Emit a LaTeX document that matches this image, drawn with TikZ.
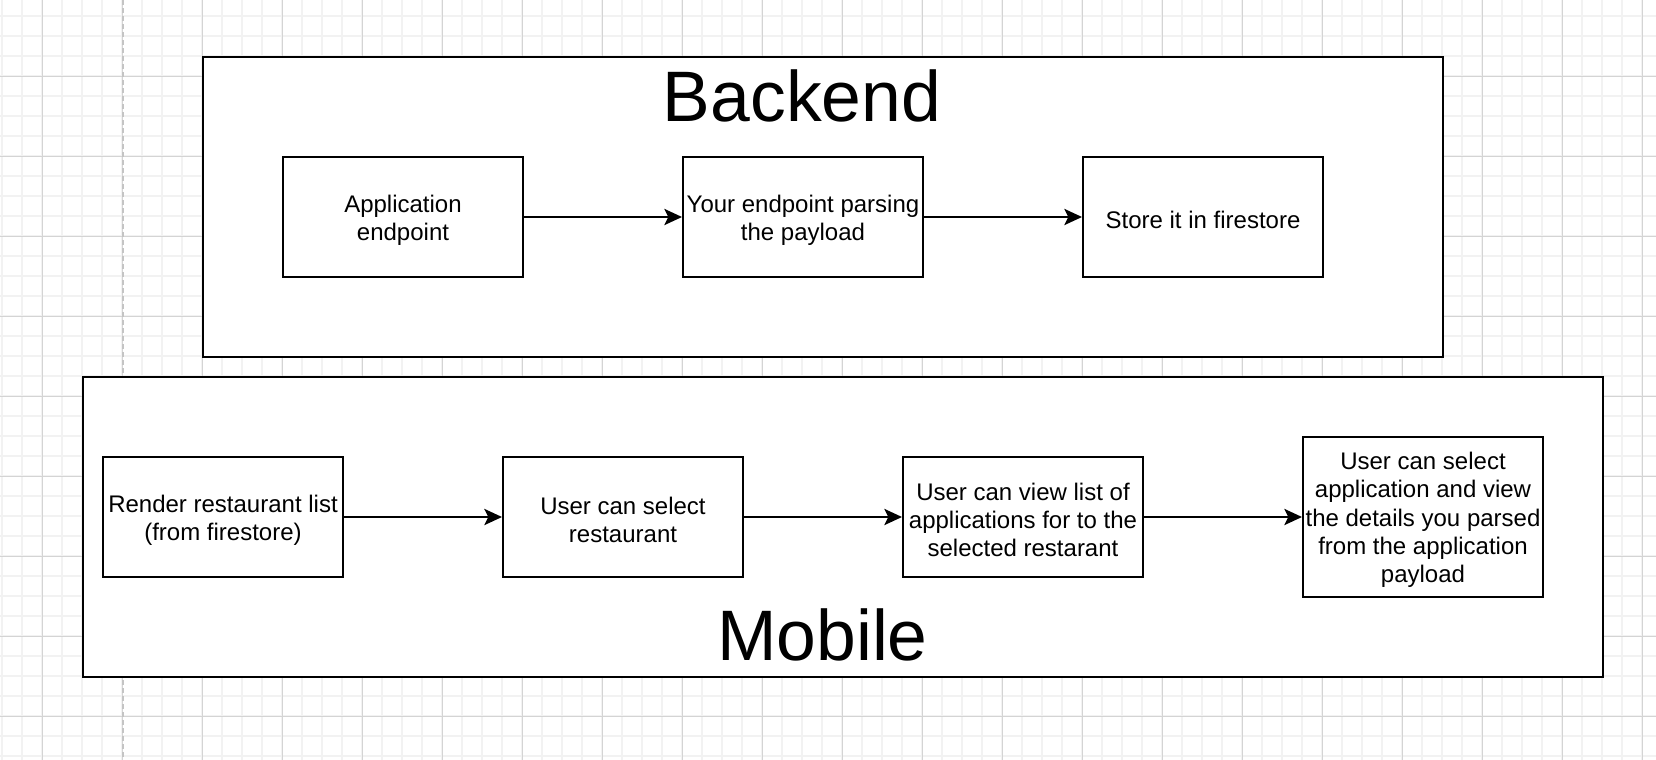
\documentclass[tikz,border=0pt]{standalone}
\usepackage{fontspec}
\setmainfont{Liberation Sans}
\usetikzlibrary{arrows.meta}
\definecolor{gridminor}{HTML}{F2F2F2}
\definecolor{gridmajor}{HTML}{D4D4D4}
\definecolor{pagebreak}{HTML}{C4C4C4}
\begin{document}
\begin{tikzpicture}[x=0.75pt,y=-0.75pt,
  stepbox/.style={draw=black, line width=1.5pt, fill=white, rectangle, inner sep=0pt,
    minimum width=180pt, minimum height=90pt},
  steptext/.style={inner sep=0pt, align=center,
    font=\fontsize{18pt}{21.2pt}\selectfont},
  groupbox/.style={draw=black, line width=1.5pt, fill=white, rectangle, inner sep=0pt},
  titletext/.style={font=\fontsize{53.6pt}{64pt}\selectfont, inner sep=0pt, anchor=base},
  flow/.style={line width=1.5pt, -{Stealth[length=13.3pt,width=12.2pt,inset=3pt]}}
]
\useasboundingbox (0,0) rectangle (1656,760);
\fill[white] (0,0) rectangle (1656,760);
% grid
\foreach \x in {2,22,...,1656} \draw[gridminor, line width=1.1pt] (\x,0) -- (\x,760);
\foreach \y in {16,36,...,760} \draw[gridminor, line width=1.1pt] (0,\y) -- (1656,\y);
\foreach \x in {42,122,...,1656} \draw[gridmajor, line width=0.75pt] (\x,0) -- (\x,760);
\foreach \y in {76,156,...,760} \draw[gridmajor, line width=0.75pt] (0,\y) -- (1656,\y);
\draw[pagebreak, line width=1.1pt, dash pattern=on 4pt off 2pt] (122.8,0) -- (122.8,760);

% groups
\node[groupbox, minimum width=930pt, minimum height=225pt] (backend) at (823,207) {};
\node[groupbox, minimum width=1140pt, minimum height=225pt] (mobile) at (843,527) {};
\node[titletext] (backendtitle) at (802,121.7) {Backend};
\node[titletext] (mobiletitle) at (822.5,660) {Mobile};

% backend steps
\node[stepbox] (b1) at (403,217) {};
\node[stepbox] (b2) at (803,217) {};
\node[stepbox] (b3) at (1203,217) {};
\node[steptext] (b1t) at (403,220) {Application\\endpoint};
\node[steptext] (b2t) at (803,220) {Your endpoint parsing\\the payload};
\node[steptext] (b3t) at (1203,219.5) {Store it in firestore};

% mobile steps
\node[stepbox] (m1) at (223,517) {};
\node[stepbox] (m2) at (623,517) {};
\node[stepbox] (m3) at (1023,517) {};
\node[stepbox, minimum height=120pt] (m4) at (1423,517) {};
\node[steptext] (m1t) at (223,520) {Render restaurant list\\(from firestore)};
\node[steptext] (m2t) at (623,520) {User can select\\restaurant};
\node[steptext] (m3t) at (1023,520) {User can view list of\\applications for to the\\selected restarant};
\node[steptext] (m4t) at (1423,520) {User can select\\application and view\\the details you parsed\\from the application\\payload};

\draw[flow] (b1) -- (b2);
\draw[flow] (b2) -- (b3);
\draw[flow] (m1) -- (m2);
\draw[flow] (m2) -- (m3);
\draw[flow] (m3) -- (m4);
\end{tikzpicture}
\end{document}
